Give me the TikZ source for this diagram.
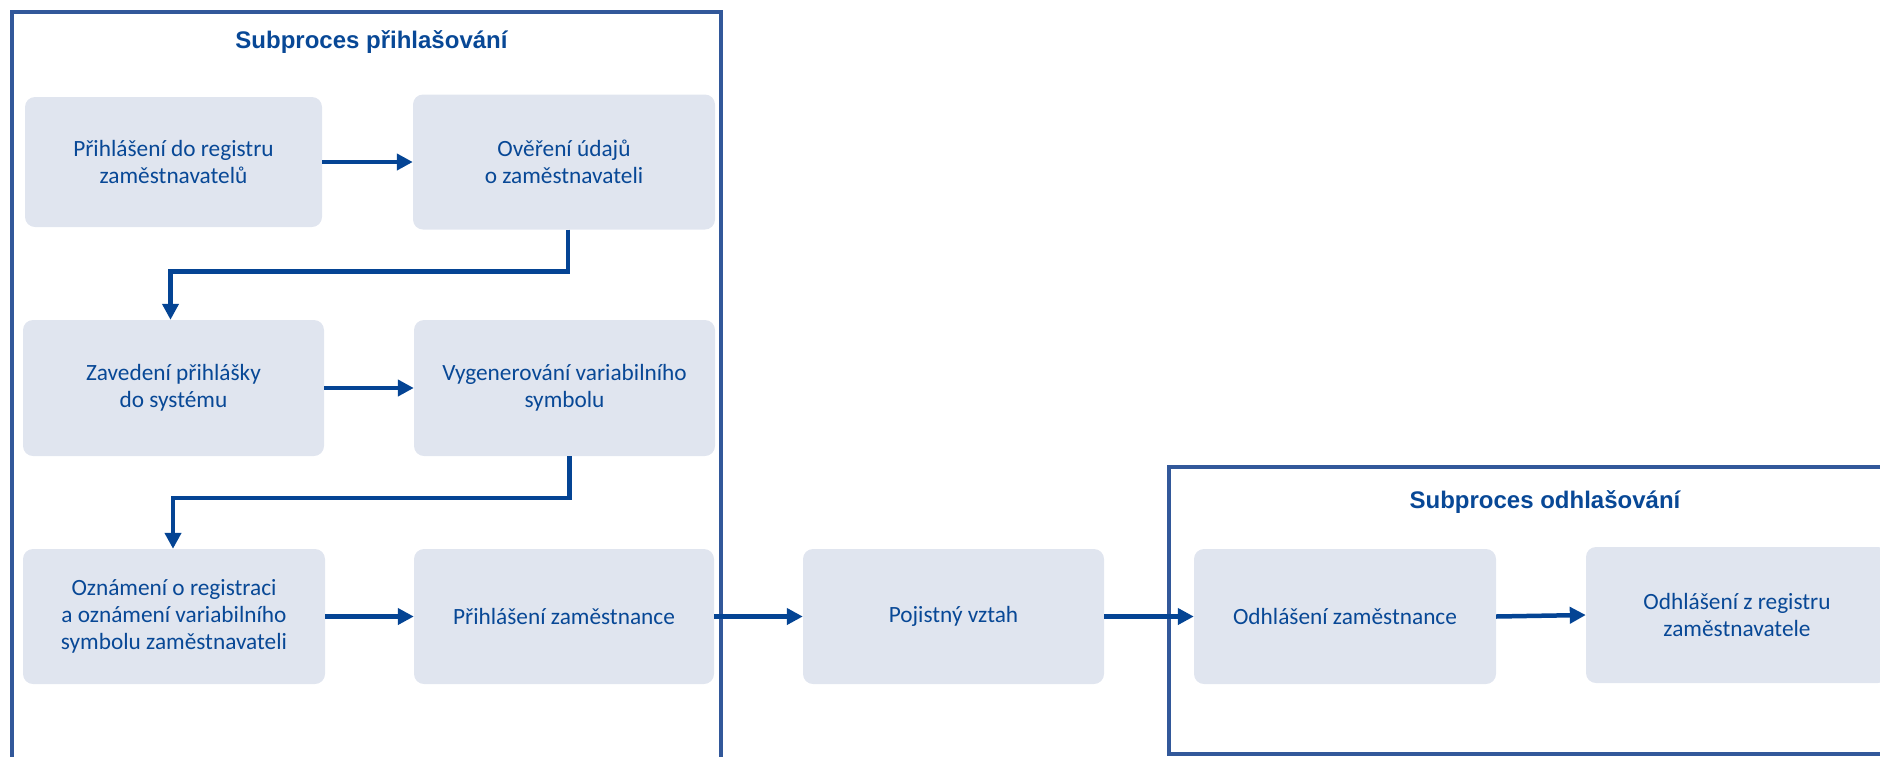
\documentclass[tikz,border=0pt]{standalone}
\usepackage{fontspec}
\usetikzlibrary{arrows.meta}
\newfontfamily\boxfont{Carlito}
\newfontfamily\titlefont{Liberation Sans}
\definecolor{arrowc}{RGB}{4,68,148}
\definecolor{framec}{RGB}{50,88,154}
\definecolor{textc}{RGB}{8,72,150}
\definecolor{boxc}{RGB}{224,229,239}
\tikzset{
  stepbox/.style={rectangle, rounded corners=10pt, fill=boxc, inner sep=0pt,
    minimum width=301pt, minimum height=135pt, align=center, text=textc,
    font=\boxfont\fontsize{23.3}{27}\selectfont},
  framebox/.style={rectangle, draw=framec, line width=4.5pt, inner sep=0pt},
  titlelbl/.style={text=textc, font=\titlefont\bfseries\fontsize{24}{28}\selectfont, anchor=base, inner sep=0pt},
  arr/.style={draw=arrowc, line width=4.5pt, -{Triangle[length=16pt,width=16pt]}}
}
\begin{document}
\begin{tikzpicture}[x=1pt,y=-1pt]
\useasboundingbox (0,0) rectangle (1880,756);
% frames
\node[framebox, minimum width=709pt, minimum height=760pt] (frame1) at (366.5,392) {};
\node[framebox, minimum width=721pt, minimum height=287pt] (frame2) at (1529.5,610.5) {};
\node[titlelbl] (t1) at (371.5,48.3) {Subproces přihlašování};
\node[titlelbl] (t2) at (1545,508.3) {Subproces odhlašování};
% boxes
\node[stepbox, minimum width=297pt, minimum height=130pt] (A) at (173.5,162) {Přihlášení do registru\\zaměstnavatelů};
\node[stepbox, minimum width=302pt] (B) at (564,162) {Ověření údajů\\o zaměstnavateli};
\node[stepbox, minimum height=136pt] (C) at (173.5,388) {Zavedení přihlášky\\do systému};
\node[stepbox, minimum height=136pt] (D) at (564.5,388) {Vygenerování variabilního\\symbolu};
\node[stepbox, minimum width=302pt] (E) at (174,616.5) {Oznámení o registraci\\a oznámení variabilního\\symbolu zaměstnavateli};
\node[stepbox, minimum width=300pt] (F) at (564,616.5) {Přihlášení zaměstnance};
\node[stepbox] (G) at (953.5,616.5) {Pojistný vztah};
\node[stepbox, minimum width=302pt] (H) at (1345,616.5) {Odhlášení zaměstnance};
\node[stepbox, minimum width=302pt, minimum height=136pt] (I) at (1737,615) {Odhlášení z registru\\zaměstnavatele};
% connectors
\draw[arr] (A.east) -- (B.west);
\draw[arr] ([xshift=4pt]B.south) -- ++(0,42) -| ([xshift=-3pt]C.north);
\draw[arr] (C.east) -- (D.west);
\draw[arr] ([xshift=5pt]D.south) -- ++(0,42) -| ([xshift=-1pt]E.north);
\draw[arr] (E.east) -- (F.west);
\draw[arr] (F.east) -- (G.west);
\draw[arr] (G.east) -- (H.west);
\draw[arr] (H.east) -- (I.west);
\end{tikzpicture}
\end{document}
